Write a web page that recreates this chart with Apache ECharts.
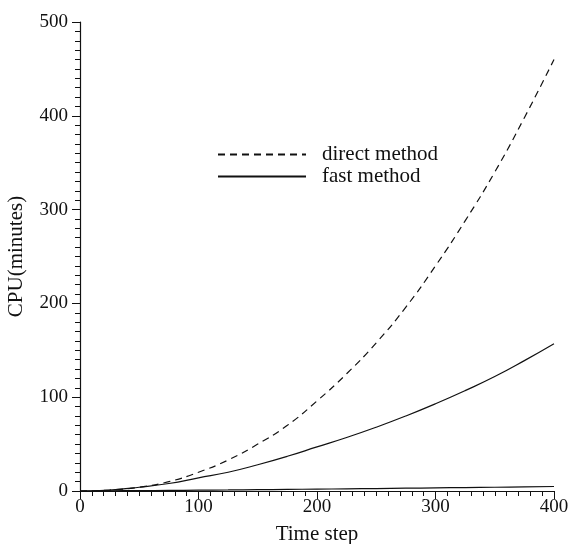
<!DOCTYPE html>
<html>
<head>
<meta charset="utf-8">
<script src="https://cdn.jsdelivr.net/npm/echarts@6/dist/echarts.min.js"></script>
<style>
  html, body { margin: 0; padding: 0; background: #fff; }
  #chart { width: 571px; height: 544px; }
</style>
</head>
<body>
<div id="chart"></div>
<script>
// time steps and CPU minutes
var steps = [0, 25, 50, 75, 100, 125, 150, 175, 200, 225, 250, 275, 300, 325, 350, 375, 400];
var directCpu = [0, 1, 4, 10, 20, 33, 50, 70, 96, 125, 158, 196, 240, 288, 340, 398, 460];
var fastCpu = [0, 1, 4, 8, 14, 20, 28, 37, 47, 57, 68, 80, 93, 107, 122, 139, 157];
var lowCpu = [0, 0.2, 0.4, 0.6, 0.9, 1.1, 1.4, 1.7, 2, 2.3, 2.6, 3, 3.3, 3.7, 4, 4.4, 4.8];
var xTicks = [0, 100, 200, 300, 400];
var yTicks = [0, 100, 200, 300, 400, 500];

function pairs(ys) {
    return steps.map(function (t, i) { return [t, ys[i]]; });
}

var font = 'Liberation Serif';
var ink = '#111';

var myChart = echarts.init(document.getElementById('chart'));

var option = {
    backgroundColor: '#fff',
    animation: false,
    grid: { left: 80, right: 17, top: 22, bottom: 53, containLabel: false, outerBoundsMode: 'none' },
    legend: {
        orient: 'vertical',
        left: 212,
        top: 139,
        itemWidth: 88,
        itemHeight: 12,
        itemGap: 1,
        itemStyle: { opacity: 0 },
        data: ['direct method', 'fast method'],
        textStyle: { fontFamily: font, fontSize: 21, color: ink, padding: [0, 0, 0, 11] }
    },
    xAxis: {
        type: 'value',
        min: xTicks[0],
        max: xTicks[xTicks.length - 1],
        interval: 100,
        name: 'Time step',
        nameLocation: 'middle',
        nameGap: 33,
        nameTextStyle: { fontFamily: font, fontSize: 21, color: ink },
        axisLine: { lineStyle: { color: ink, width: 1.2 } },
        axisTick: { inside: false, length: 8, lineStyle: { color: ink } },
        minorTick: { show: true, splitNumber: 10, length: 5, lineStyle: { color: ink } },
        axisLabel: { fontFamily: font, fontSize: 19, color: ink, margin: 7 },
        splitLine: { show: false }
    },
    yAxis: {
        type: 'value',
        min: yTicks[0],
        max: yTicks[yTicks.length - 1],
        interval: 100,
        name: 'CPU(minutes)',
        nameLocation: 'middle',
        nameGap: 53,
        nameTextStyle: { fontFamily: font, fontSize: 21, color: ink },
        axisLine: { show: true, lineStyle: { color: ink, width: 1.2 } },
        axisTick: { show: true, inside: false, length: 8, lineStyle: { color: ink } },
        minorTick: { show: true, splitNumber: 10, length: 5, lineStyle: { color: ink } },
        axisLabel: { fontFamily: font, fontSize: 19, color: ink, margin: 12 },
        splitLine: { show: false }
    },
    series: [
        {
            name: 'direct method',
            type: 'line',
            smooth: true,
            symbol: 'none',
            data: pairs(directCpu),
            lineStyle: { color: ink, width: 1.2, type: [7, 5] },
            itemStyle: { color: ink }
        },
        {
            name: 'fast method',
            type: 'line',
            smooth: true,
            symbol: 'none',
            data: pairs(fastCpu),
            lineStyle: { color: ink, width: 1.2 },
            itemStyle: { color: ink }
        },
        {
            name: 'low',
            type: 'line',
            smooth: true,
            symbol: 'none',
            data: pairs(lowCpu),
            lineStyle: { color: ink, width: 1.2 },
            itemStyle: { color: ink }
        }
    ]
};

myChart.setOption(option);
</script>
</body>
</html>
